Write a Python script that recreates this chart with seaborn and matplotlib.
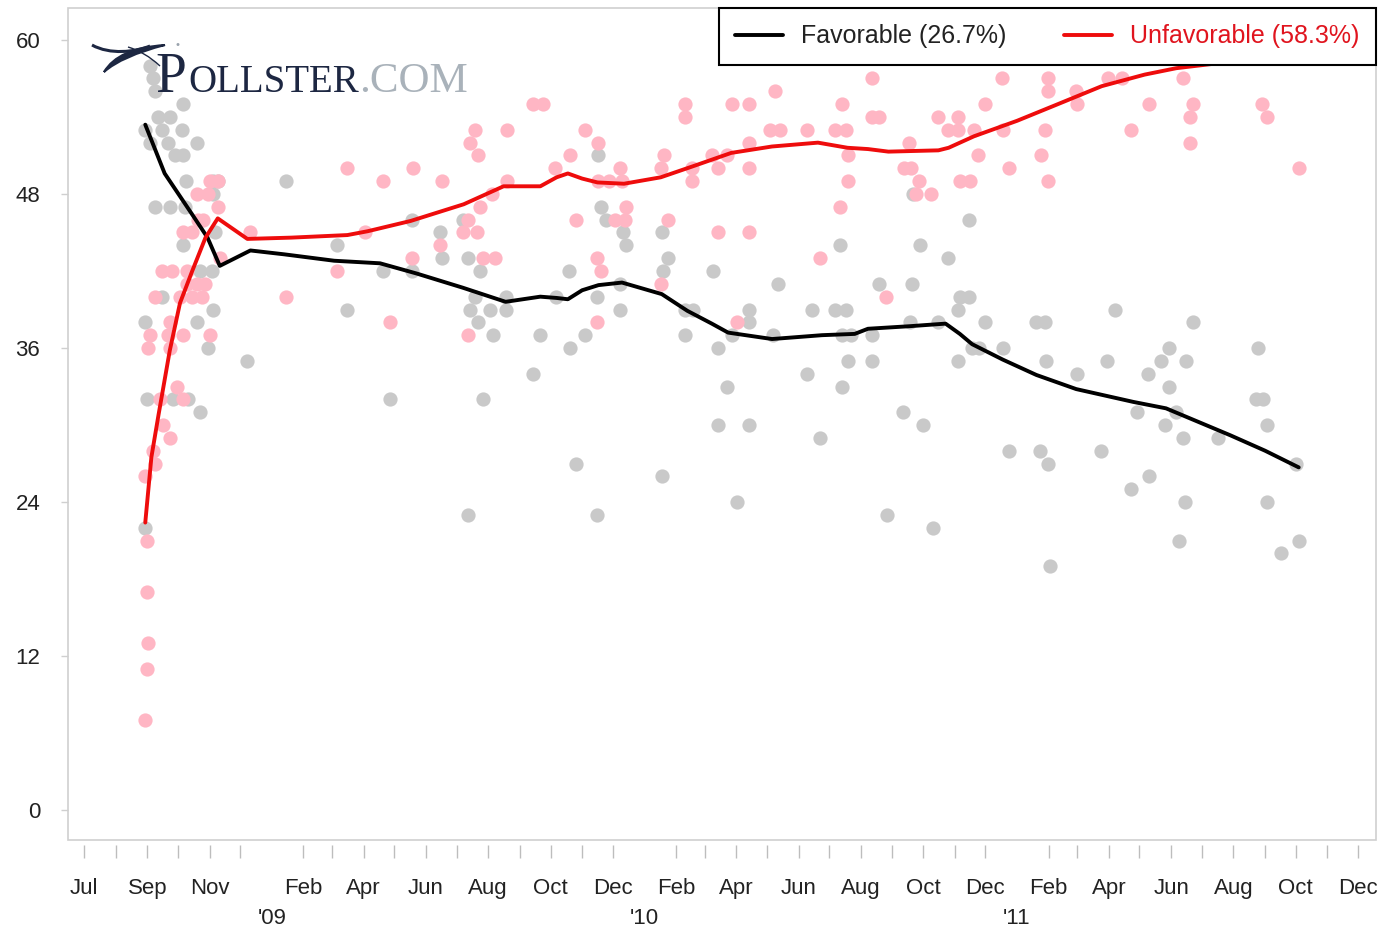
import pandas as pd
import matplotlib
matplotlib.use('Agg')
import matplotlib.pyplot as plt
from matplotlib.path import Path
from matplotlib.patches import PathPatch, Rectangle
import seaborn as sns

W, H = 1384, 926
START = pd.Timestamp('2008-07-01')

# individual polls: field date as days after START, percent
fav_day = [65, 68, 70, 97, 72, 84, 60, 76, 96, 65, 82, 111, 89, 97, 100, 126, 131, 126,
           70, 84, 99, 128, 97, 114, 125, 76, 126, 60, 111, 121, 62, 87, 102, 114, 60,
           160, 198, 248, 258, 293, 300, 321, 321, 349, 351, 371, 376, 388, 378, 398,
           413, 383, 413, 386, 401, 447, 440, 391, 376, 462, 475, 476, 491, 482, 503,
           503, 504, 506, 511, 525, 525, 528, 531, 566, 572, 567, 566, 589, 597, 589,
           616, 621, 621, 630, 635, 640, 651, 651, 651, 675, 680, 708, 713, 721, 736,
           746, 743, 751, 741, 743, 748, 772, 772, 779, 811, 809, 837, 812, 819, 846,
           867, 858, 867, 856, 883, 870, 877, 856, 900, 802, 822, 787, 832, 906, 941,
           933, 942, 937, 944, 946, 973, 996, 1002, 1010, 1026, 1043, 1042, 1055, 1063,
           1063, 1032, 1070, 1059, 1077, 1086, 1080, 1079, 1073, 1111, 1150, 1148, 1155,
           1159, 1159, 1173, 1187, 1190]
fav_pct = [58, 57, 56, 55, 54, 54, 53, 53, 53, 52, 52, 52, 51, 51, 49, 49, 49, 48,
           47, 47, 47, 45, 44, 42, 42, 40, 39, 38, 38, 36, 32, 32, 32, 31, 22,
           35, 49, 44, 39, 42, 32, 46, 42, 45, 43, 46, 43, 42, 39, 39,
           39, 40, 40, 38, 37, 37, 34, 32, 23, 40, 42, 36, 37, 27, 23,
           40, 51, 47, 46, 41, 39, 45, 44, 45, 43, 42, 26, 39, 39, 37,
           42, 36, 30, 33, 37, 24, 39, 38, 30, 37, 41, 34, 39, 29, 39,
           39, 37, 37, 44, 33, 35, 35, 37, 41, 41, 38, 38, 48, 44, 43,
           46, 40, 40, 39, 38, 36, 36, 35, 36, 31, 30, 23, 22, 28, 38,
           38, 35, 28, 27, 19, 34, 28, 35, 39, 25, 26, 34, 35, 36,
           33, 31, 31, 30, 29, 38, 35, 24, 21, 29, 36, 32, 32,
           30, 24, 20, 27, 21]

unfav_day = [123, 131, 111, 121, 131, 117, 112, 97, 106, 133, 76, 86, 101, 101, 111, 119,
             70, 94, 106, 116, 84, 65, 82, 97, 123, 63, 84, 91, 74, 97, 77, 84, 68, 70,
             60, 62, 62, 63, 62, 60,
             163, 198, 248, 258, 275, 293, 300, 321, 322, 349, 351, 371, 385, 376, 388,
             400, 376, 378, 383, 386, 391, 403, 414, 414, 440, 450, 461, 476, 482, 491,
             504, 503, 506, 503, 504, 514, 525, 527, 520, 530, 531, 565, 568, 572, 565,
             589, 589, 596, 596, 615, 630, 621, 621, 635, 640, 651, 651, 651, 651, 672,
             677, 682, 708, 721, 736, 746, 743, 741, 748, 748, 772, 779, 772, 786, 803,
             810, 808, 818, 815, 830, 837, 856, 846, 856, 872, 858, 868, 876, 883, 899,
             900, 906, 938, 941, 944, 944, 944, 972, 973, 1003, 1017, 1026, 1043, 1077,
             1086, 1083, 1083, 1154, 1159, 1190]
unfav_pct = [49, 49, 48, 48, 47, 46, 46, 45, 45, 43, 42, 42, 42, 41, 41, 41,
             40, 40, 40, 40, 38, 37, 37, 37, 37, 36, 36, 33, 32, 32, 30, 29, 28, 27,
             26, 21, 17, 13, 11, 7,
             45, 40, 42, 50, 45, 49, 38, 43, 50, 44, 49, 45, 45, 46, 47,
             48, 37, 52, 53, 51, 43, 43, 53, 49, 55, 55, 50, 51, 46, 53,
             52, 43, 42, 38, 49, 49, 50, 49, 46, 46, 47, 50, 51, 46, 41,
             55, 54, 50, 49, 51, 51, 50, 45, 55, 38, 55, 52, 50, 45, 53,
             56, 53, 53, 43, 53, 53, 55, 47, 51, 49, 54, 54, 57, 40, 50,
             50, 52, 49, 48, 48, 54, 54, 53, 53, 53, 49, 49, 51, 55, 57,
             53, 50, 51, 53, 49, 57, 56, 56, 55, 57, 57, 53, 55, 57,
             55, 54, 52, 55, 54, 50]

# trend estimates
fav_trend_day = [60, 79, 106, 121, 133, 163, 196, 245, 290, 326, 371, 413, 447, 463, 474,
                 488, 504, 527, 566, 591, 615, 631, 674, 723, 755, 768, 809, 844, 858,
                 870, 900, 933, 972, 1028, 1060, 1084, 1123, 1157, 1190]
fav_trend = [53.4, 49.6, 46.4, 44.6, 42.4, 43.6, 43.3, 42.8, 42.6, 41.8, 40.7, 39.6, 40.0,
             39.9, 39.8, 40.5, 40.9, 41.1, 40.2, 38.9, 37.9, 37.2, 36.7, 37.0, 37.1, 37.5,
             37.7, 37.9, 37.1, 36.3, 35.1, 33.9, 32.8, 31.8, 31.3, 30.5, 29.2, 28.0, 26.7]
unfav_trend_day = [60, 66, 73, 84, 94, 106, 119, 131, 160, 203, 258, 278, 320, 372, 411,
                   447, 463, 474, 488, 503, 529, 565, 598, 634, 674, 719, 748, 768, 788,
                   837, 847, 872, 914, 951, 997, 1039, 1070, 1123, 1190]
unfav_trend = [22.4, 27.5, 30.8, 35.8, 39.5, 42.0, 44.6, 46.1, 44.5, 44.6, 44.8, 45.1, 45.9,
               47.2, 48.6, 48.6, 49.3, 49.6, 49.2, 48.9, 48.8, 49.3, 50.2, 51.2, 51.7, 52.0,
               51.6, 51.5, 51.3, 51.4, 51.6, 52.5, 53.7, 54.9, 56.4, 57.3, 57.8, 58.3, 58.3]

labels = ['Favorable (26.7%)', 'Unfavorable (58.3%)']
label_months = ['2008-07', '2008-09', '2008-11', '2009-02', '2009-04', '2009-06', '2009-08',
                '2009-10', '2009-12', '2010-02', '2010-04', '2010-06', '2010-08', '2010-10',
                '2010-12', '2011-02', '2011-04', '2011-06', '2011-08', '2011-10', '2011-12']
years = ["'09", "'10", "'11"]


def to_dates(days):
    return START + pd.to_timedelta(days, unit='D')


sns.set_style('white')
plt.rcParams['font.family'] = ['Liberation Sans', 'DejaVu Sans']

fig = plt.figure(figsize=(W / 100, H / 100), dpi=100)
ax = fig.add_axes([68 / W, 1 - 840 / H, (1376 - 68) / W, (840 - 8) / H])

sns.scatterplot(x=to_dates(fav_day), y=fav_pct, color='#c9c9c9', s=105,
                linewidth=0, ax=ax, zorder=2)
sns.scatterplot(x=to_dates(unfav_day), y=unfav_pct, color='#ffb6c4', s=105,
                linewidth=0, ax=ax, zorder=2)
sns.lineplot(x=to_dates(fav_trend_day), y=fav_trend, color='black', lw=2.8,
             ax=ax, label=labels[0], zorder=4)
sns.lineplot(x=to_dates(unfav_trend_day), y=unfav_trend, color='#ee0c0c', lw=2.8,
             ax=ax, label=labels[1], zorder=4)

ax.set_xlim(START - pd.Timedelta(days=15.7), START + pd.Timedelta(days=1265.7))
ax.set_ylim(-2.33, 62.49)
ax.set_yticks(range(0, 61, 12))
ax.set_xlabel('')
ax.set_ylabel('')

# frame
for sp in ax.spines.values():
    sp.set_visible(False)
ax.add_patch(Rectangle((0, 0), 1, 1, transform=ax.transAxes, fill=False,
                       edgecolor='#cfcfcf', lw=1.2, zorder=1, clip_on=False))

# month ticks below the frame, none at January
major = pd.to_datetime(label_months)
minor = [d for d in pd.date_range('2008-07-01', '2011-12-01', freq='MS')
         if d.month != 1 and d not in major]
ax.set_xticks(major)
ax.set_xticklabels([d.strftime('%b') for d in major])
ax.set_xticks(minor, minor=True)
ax.spines['bottom'].set_position(('outward', 13))
ax.tick_params(axis='x', which='both', direction='in', length=9.5, width=1,
               color='#bdbdbd', pad=14.5, labelsize=16, labelcolor='#222222',
               bottom=True)
ax.tick_params(axis='y', direction='out', length=5, width=1, color='#cfcfcf',
               pad=15, labelsize=16, labelcolor='#222222', left=True)

for i, yr in enumerate(years):
    ax.text(pd.Timestamp(f'{2009 + i}-01-01'), -0.094, yr, transform=ax.get_xaxis_transform(),
            ha='center', va='center', fontsize=16, color='#222222')

leg = ax.legend(loc='upper right', bbox_to_anchor=(1, 1), borderaxespad=0, ncol=2,
                fontsize=18, frameon=True, fancybox=False, framealpha=1,
                edgecolor='black', handlelength=1.9, handletextpad=0.75,
                columnspacing=2.3, borderpad=0.65)
leg.get_frame().set_linewidth(1.5)
leg.set_zorder(10)
leg.get_texts()[0].set_color('#222222')
leg.get_texts()[1].set_color('#e0141e')


# logo
def fp(x, y):
    return (x / W, 1 - y / H)


navy = '#1d2742'
fig.text(*fp(155, 92), 'P', fontsize=40, family='Liberation Serif', color=navy, va='baseline')
fig.text(*fp(188, 92), 'OLLSTER', fontsize=28, family='Liberation Serif', color=navy,
         va='baseline')
fig.text(*fp(359, 92), '.COM', fontsize=31, family='Liberation Serif', color='#a9b2ba',
         va='baseline')
# swoosh
crescent = Path([fp(165, 45), fp(118, 48), fp(104, 72), fp(104, 72), fp(122, 56), fp(165, 45),
                 fp(165, 45)],
                [Path.MOVETO, Path.CURVE3, Path.CURVE3, Path.LINETO, Path.CURVE3, Path.CURVE3,
                 Path.CLOSEPOLY])
fig.add_artist(PathPatch(crescent, transform=fig.transFigure, facecolor=navy, edgecolor=navy,
                         lw=1.5))
top = Path([fp(92, 45), fp(110, 55), fp(135, 52), fp(150, 46)],
           [Path.MOVETO, Path.CURVE4, Path.CURVE4, Path.CURVE4])
fig.add_artist(PathPatch(top, transform=fig.transFigure, facecolor='none', edgecolor=navy,
                         lw=2.2))
down = Path([fp(128, 47), fp(145, 52), fp(160, 66)], [Path.MOVETO, Path.CURVE3, Path.CURVE3])
fig.add_artist(PathPatch(down, transform=fig.transFigure, facecolor='none', edgecolor=navy,
                         lw=1.0))
fig.text(*fp(178, 45), '•', fontsize=8, color='#9aa3ad', ha='center', va='center')

fig.savefig('out.png', dpi=100)
